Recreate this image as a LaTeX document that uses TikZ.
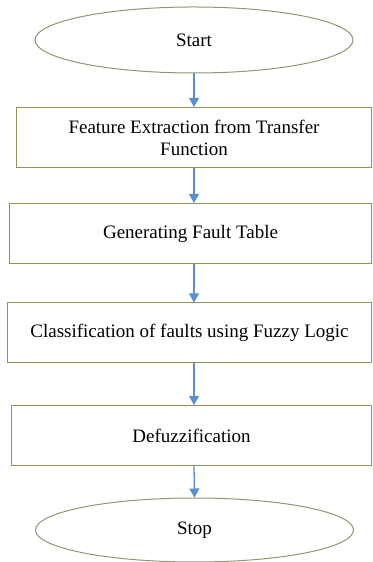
\documentclass[tikz,border=0pt]{standalone}
\usepackage{fontspec}
\setmainfont{Liberation Serif}
\usetikzlibrary{shapes.geometric,arrows.meta}
\definecolor{boxgreen}{RGB}{133,153,83}
\definecolor{ovalgrey}{RGB}{140,152,116}
\definecolor{flowblue}{RGB}{91,143,209}
\begin{document}
\begin{tikzpicture}[x=1bp,y=1bp,
        term/.style={ellipse,draw=ovalgrey,line width=1bp,inner sep=0pt,
            minimum width=318bp,minimum height=66bp},
        stepbox/.style={rectangle,draw=boxgreen,line width=1bp,inner sep=0pt,
            align=center,minimum height=60bp},
        flow/.style={draw=flowblue,line width=1.3bp,
            -{Triangle[width=10bp,length=9bp]}},
        every node/.style={font=\fontsize{19bp}{22bp}\selectfont}]
        \useasboundingbox (0,0) rectangle (372,562);
        \node[term] (start) at (194,522) {Start};
        \node[stepbox,minimum width=354bp] (feat) at (194,424.5)
            {Feature Extraction from Transfer\\Function};
        \node[stepbox,minimum width=361bp] (table) at (190.5,328.5)
            {Generating Fault Table};
        \node[stepbox,minimum width=363bp] (fuzzy) at (189.5,229)
            {Classification of faults using Fuzzy Logic};
        \node[stepbox,minimum width=359bp] (defuzz) at (191.5,126.5)
            {Defuzzification};
        \node[term,minimum height=64bp] (stop) at (194.5,32) {Stop};
        \draw[flow] (start.south) -- (start.south |- feat.north);
        \draw[flow] (start.south |- feat.south) -- (start.south |- table.north);
        \draw[flow] (start.south |- table.south) -- (start.south |- fuzzy.north);
        \draw[flow] (start.south |- fuzzy.south) -- (start.south |- defuzz.north);
        \draw[flow] (start.south |- defuzz.south) -- (stop.north);
    \end{tikzpicture}
\end{document}
